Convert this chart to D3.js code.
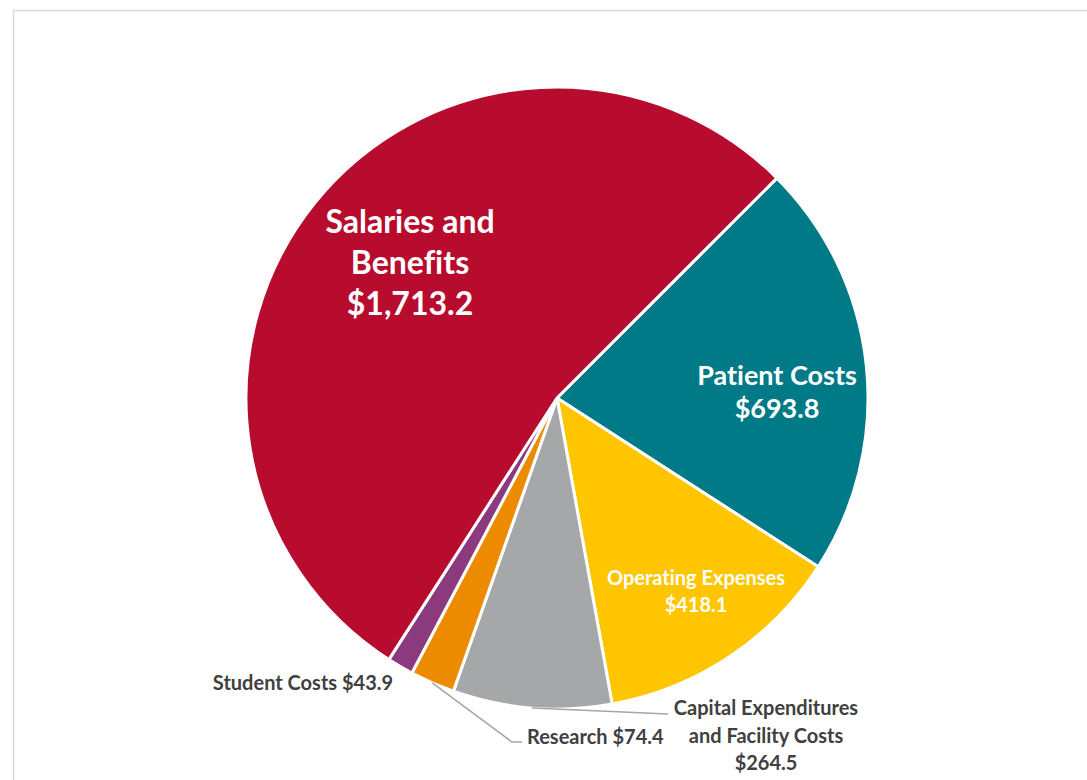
<!DOCTYPE html>
<html>
<head>
<meta charset="utf-8">
<script src="https://cdn.jsdelivr.net/npm/d3@7"></script>
<style>
  html, body { margin: 0; padding: 0; background: #fff; }
  svg text { font-family: Lato, "Open Sans", sans-serif; font-weight: 700; font-variant-ligatures: none; }
</style>
</head>
<body>
<div id="chart"></div>
<script>
// chart values
const categories = ["Patient Costs", "Operating Expenses", "Capital Expenditures and Facility Costs", "Research", "Student Costs", "Salaries and Benefits"];
const amounts = [693.8, 418.1, 264.5, 74.4, 43.9, 1713.2];
const amountLabels = ["$693.8", "$418.1", "$264.5", "$74.4", "$43.9", "$1,713.2"];
const sliceColors = ["#007a87", "#ffc600", "#a6a7a9", "#ed8b00", "#8a3a7d", "#b80c2f"];

const width = 1087;
const height = 780;
const cx = 557, cy = 398, radius = 311;

// label layout: lines, anchor point, font size, inside (white) or outside (grey)
const labelLayout = {
    "Salaries and Benefits": {lines: ["Salaries and", "Benefits", "$1,713.2"], x: 410, y: 233, size: 32, gap: 41, inside: true},
    "Patient Costs": {lines: ["Patient Costs", "$693.8"], x: 777, y: 385, size: 27, gap: 33, inside: true},
    "Operating Expenses": {lines: ["Operating Expenses", "$418.1"], x: 696, y: 585, size: 20, gap: 27, inside: true},
    "Capital Expenditures and Facility Costs": {lines: ["Capital Expenditures", "and Facility Costs", "$264.5"], x: 766, y: 715, size: 20, gap: 27.5, inside: false, leader: [[668, 714]]},
    "Research": {lines: ["Research $74.4"], x: 527, y: 744, size: 20, gap: 0, inside: false, anchor: "start", leader: [[512, 742], [522, 742]]},
    "Student Costs": {lines: ["Student Costs $43.9"], x: 303, y: 690, size: 20, gap: 0, inside: false}
};

const rows = categories.map((c, i) => ({name: c, value: amounts[i], label: amountLabels[i], color: sliceColors[i]}));

const svg = d3.select("#chart")
    .append("svg")
    .attr("width", width)
    .attr("height", height);

// chart frame
svg.append("rect")
    .attr("x", 13.5)
    .attr("y", 10.5)
    .attr("width", width + 20)
    .attr("height", height + 20)
    .attr("fill", "none")
    .attr("stroke", "#d9d9d9")
    .attr("stroke-width", 1.5);

const pie = d3.pie()
    .sort(null)
    .value(d => d.value)
    .startAngle(Math.PI / 4)
    .endAngle(Math.PI / 4 + 2 * Math.PI);

const arc = d3.arc().innerRadius(0).outerRadius(radius);
const edge = d3.arc().innerRadius(radius).outerRadius(radius);

const g = svg.append("g").attr("transform", `translate(${cx}, ${cy})`);

const slices = pie(rows);

g.selectAll("path.slice")
    .data(slices)
    .join("path")
    .attr("class", "slice")
    .attr("d", arc)
    .attr("fill", d => d.data.color)
    .attr("stroke", "#fff")
    .attr("stroke-width", 3)
    .attr("stroke-linejoin", "round");

// leader lines
slices.forEach(d => {
    const lay = labelLayout[d.data.name];
    if (!lay.leader) return;
    const [sx, sy] = edge.centroid(d);
    const pts = [[sx + cx, sy + cy], ...lay.leader];
    svg.append("path")
        .attr("d", d3.line()(pts))
        .attr("fill", "none")
        .attr("stroke", "#a6a6a6")
        .attr("stroke-width", 1.5);
});

// labels
slices.forEach(d => {
    const lay = labelLayout[d.data.name];
    const t = svg.append("text")
        .attr("x", lay.x)
        .attr("y", lay.y)
        .attr("text-anchor", lay.anchor || "middle")
        .attr("font-size", lay.size)
        .attr("fill", lay.inside ? "#fff" : "#404040");
    lay.lines.forEach((line, i) => {
        t.append("tspan")
            .attr("x", lay.x)
            .attr("y", lay.y + i * lay.gap)
            .text(line);
    });
});
</script>
</body>
</html>
